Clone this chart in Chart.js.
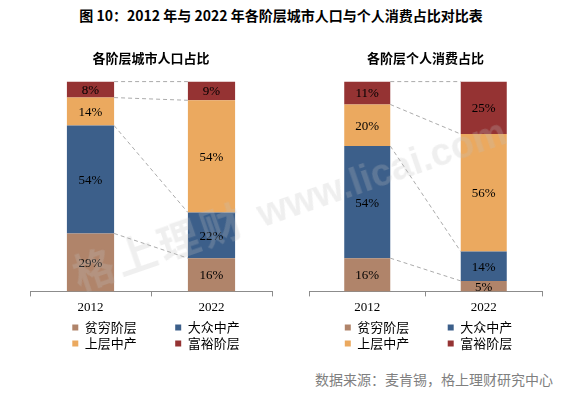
<!DOCTYPE html>
<html>
<head>
<meta charset="utf-8">
<script src="https://cdn.jsdelivr.net/npm/chart.js@4.4.1/dist/chart.umd.min.js"></script>
<style>
  body { margin: 0; width: 562px; height: 393px; background: #fff; position: relative; overflow: hidden; font-family: "Noto Sans CJK SC", sans-serif; }
  #title { position: absolute; top: 6px; left: 0; width: 562px; text-align: center; font-weight: bold; font-size: 14px; line-height: 18px; color: #000; }
  .box { position: absolute; top: 40px; height: 320px; }
  #left { left: 20px; width: 262px; }
  #right { left: 299px; width: 253px; }
  #src { position: absolute; right: 9px; top: 369px; color: #7f7f7f; font-size: 14px; line-height: 20px; }
  #wm { position: absolute; left: 82px; top: 250px; transform-origin: 0 100%; transform: rotate(-19deg); font-family: "Liberation Sans", sans-serif; font-weight: bold; font-size: 41px; line-height: 44px; color: rgba(190,190,190,0.25); white-space: nowrap; pointer-events: none; }
  #wm .cn { font-family: "Noto Sans CJK SC"; letter-spacing: 4px; }
  #wm .en { margin-left: 14px; font-size: 38px; }
</style>
</head>
<body>
<div id="title">图 10：2012 年与 2022 年各阶层城市人口与个人消费占比对比表</div>
<div class="box" id="left"><canvas id="popChart"></canvas></div>
<div class="box" id="right"><canvas id="spendChart"></canvas></div>
<div id="src">数据来源：麦肯锡，格上理财研究中心</div>
<div id="wm"><span class="cn">格上理财</span><span class="en">www.licai.com</span></div>
<script>
const years = ['2012', '2022'];
const tiers = ['贫穷阶层', '大众中产', '上层中产', '富裕阶层'];
const tierColors = ['#B0846A', '#3C5F8A', '#EBA95F', '#953333'];

// 各阶层城市人口占比 (%)
const popPoor = [29, 16];
const popMass = [54, 22];
const popUpper = [14, 54];
const popRich = [8, 9];

// 各阶层个人消费占比 (%)
const spendPoor = [16, 5];
const spendMass = [54, 14];
const spendUpper = [20, 56];
const spendRich = [11, 25];

// 画标签和虚线连接
const barDecor = {
  id: 'barDecor',
  afterLayout(chart, args, opts) {
    // 图例稍微右移
    chart.legend.left += opts.legendShift;
    chart.legend.right += opts.legendShift;
  },
  afterDatasetsDraw(chart) {
    const ctx = chart.ctx;
    ctx.save();
    ctx.strokeStyle = '#ABABAB';
    ctx.lineWidth = 1;
    ctx.setLineDash([4, 3]);
    chart.data.datasets.forEach((ds, i) => {
      const bars = chart.getDatasetMeta(i).data;
      const a = bars[0], b = bars[1];
      ctx.beginPath();
      ctx.moveTo(a.x + a.width / 2, a.y);
      ctx.lineTo(b.x - b.width / 2, b.y);
      ctx.stroke();
    });
    ctx.setLineDash([]);
    ctx.font = '13px "Liberation Serif"';
    ctx.fillStyle = '#000';
    ctx.textAlign = 'center';
    ctx.textBaseline = 'middle';
    chart.data.datasets.forEach((ds, i) => {
      chart.getDatasetMeta(i).data.forEach((bar, j) => {
        ctx.fillText(ds.rawValues[j] + '%', bar.x, (bar.y + bar.base) / 2 + 1);
      });
    });
    ctx.restore();
  }
};

function makeChart(id, title, series, barPct, legendShift) {
  const totals = years.map((y, j) => series.reduce((s, arr) => s + arr[j], 0));
  const datasets = series.map((arr, i) => ({
    label: tiers[i],
    data: arr.map((v, j) => v / totals[j] * 100),
    rawValues: arr,
    backgroundColor: tierColors[i],
    borderWidth: 0,
    barPercentage: barPct,
    categoryPercentage: 1
  }));
  return new Chart(document.getElementById(id), {
    type: 'bar',
    data: { labels: years, datasets: datasets },
    options: {
      responsive: true,
      maintainAspectRatio: false,
      animation: false,
      layout: { padding: { left: 10, right: 10, top: 0, bottom: 0 } },
      scales: {
        x: {
          stacked: true,
          grid: { offset: true, drawOnChartArea: false, drawTicks: true, tickLength: 5, color: '#8C8C8C' },
          border: { color: '#8C8C8C' },
          ticks: { color: '#000', padding: 3, font: { family: 'Liberation Serif', size: 13 } }
        },
        y: { stacked: true, min: 0, max: 100, display: false }
      },
      plugins: {
        barDecor: { legendShift: legendShift },
        tooltip: { enabled: false },
        title: {
          display: true,
          text: title,
          color: '#000',
          font: { family: 'Noto Sans CJK SC', size: 13, weight: 'bold' },
          padding: { top: 10, bottom: 16 }
        },
        legend: {
          position: 'bottom',
          labels: {
            boxWidth: 6,
            boxHeight: 6,
            padding: 3,
            color: '#000',
            font: { family: 'Noto Sans CJK SC', size: 13 },
            generateLabels(chart) {
              const items = Chart.defaults.plugins.legend.labels.generateLabels(chart);
              items.forEach((it, k) => {
                if (k % 2 === 0) it.text = it.text + '\u3000\u3000\u2002 ';
              });
              return items;
            }
          }
        }
      }
    },
    plugins: [barDecor]
  });
}

makeChart('popChart', '各阶层城市人口占比', [popPoor, popMass, popUpper, popRich], 0.39, 5);
makeChart('spendChart', '各阶层个人消费占比', [spendPoor, spendMass, spendUpper, spendRich], 0.395, 3);
</script>
</body>
</html>
